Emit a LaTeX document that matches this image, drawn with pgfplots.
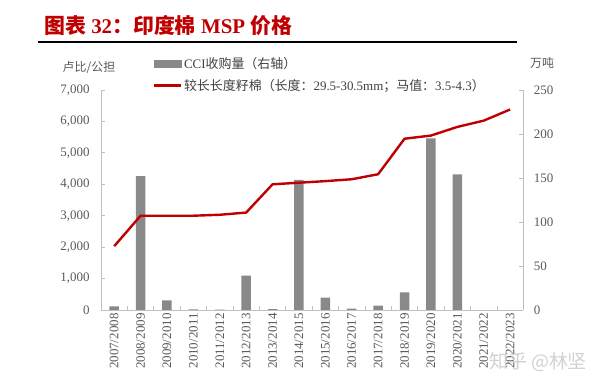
\documentclass[border=0pt]{standalone}
\usepackage{pgfplots}
\pgfplotsset{compat=1.18}
\usepackage{pgfplotstable}
\usepackage{fontspec}
\setmainfont{Liberation Serif}
\newfontfamily\cjk{Noto Sans CJK SC}
\definecolor{barc}{HTML}{898989}
\definecolor{linec}{HTML}{C00000}
\definecolor{titlec}{HTML}{C00000}
\definecolor{axc}{HTML}{BFBFBF}
\definecolor{txtc}{HTML}{595959}
\definecolor{legc}{HTML}{404040}

\pgfplotstableread{
i bar msp
0 4 2030
1 152 3000
2 11 3000
3 0.6 3000
4 0.5 3030
5 39 3100
6 1 4000
7 148 4050
8 14 4100
9 1.5 4160
10 5 4320
11 20 5450
12 195 5550
13 154 5825
14 0 6025
15 0 6380
}\data

\pgfplotsset{
  base/.style={
    scale only axis, width=422.3bp, height=220bp,
    xmin=-0.5, xmax=15.5,
    at={(101bp,76bp)}, anchor=south west,
    axis line style={axc, line width=0.8bp},
    tick style={axc, line width=0.8bp},
    tick align=inside,
    major tick length=4bp, minor tick length=4bp,
    tick label style={font=\fontsize{13}{15}\selectfont, text=txtc},
    /pgf/number format/assume math mode=true,
    /pgf/number format/1000 sep={,},
  }
}

\begin{document}
\begin{tikzpicture}
\path[use as bounding box] (0,0) rectangle (600bp,386bp);

% bars, right axis
\begin{axis}[base,
  ymin=0, ymax=250, ytick={0,50,...,250},
  axis y line*=right, axis x line*=bottom,
  xtick={0,...,15},
  xticklabels={2007/2008,2008/2009,2009/2010,2010/2011,2011/2012,2012/2013,2013/2014,2014/2015,2015/2016,2016/2017,2017/2018,2018/2019,2019/2020,2020/2021,2021/2022,2022/2023},
  major x tick style={draw=none},
  minor xtick={-0.5,0.5,...,15.5},
  x tick label style={rotate=90, anchor=east},
  yticklabel style={xshift=7bp},
]
\addplot[ybar, bar width=9.5bp, fill=barc, draw=none] table[x=i, y=bar] {\data};
\end{axis}

% line, left axis
\begin{axis}[base,
  ymin=0, ymax=7000, ytick={0,1000,...,7000},
  axis y line*=left, axis x line=none,
  yticklabel style={xshift=-8bp},
  legend style={at={(0.123,1.155)}, anchor=north west, draw=none, fill=none,
    font=\fontsize{13}{15}\selectfont, text=legc, inner sep=0pt,
    row sep=6bp, nodes={inner sep=1.5bp}},
  legend cell align=left,
]
\addlegendimage{legend image code/.code={\fill[barc] (0bp,-3.2bp) rectangle (27bp,3.2bp);}}
\addlegendentry{CCI{\cjk 收购量（右轴）}}
\addplot[linec, line width=2.4bp, line join=round,
  legend image code/.code={\draw[linec,line width=2.4bp] (0bp,0bp) -- (27bp,0bp);}]
  table[x=i, y=msp] {\data};
\addlegendentry{{\cjk 较长长度籽棉（长度：}29.5-30.5mm{\cjk ；马值：}3.5-4.3{\cjk ）}}
\end{axis}

% title
\node[anchor=west, inner sep=0pt, text=titlec, font=\fontsize{21}{25}\selectfont\bfseries] at (44bp,360bp)
  {{\cjk 图表}\ 32{\cjk ：印度棉}\ MSP\ {\cjk 价格}};
\draw[black, line width=1.8bp] (38bp,344.3bp) -- (517bp,344.3bp);

% unit labels
\node[anchor=center, inner sep=0pt, text=txtc, font=\fontsize{12}{14}\selectfont\cjk] at (89bp,318bp) {卢比/公担};
\node[anchor=center, inner sep=0pt, text=txtc, font=\fontsize{12}{14}\selectfont\cjk] at (542bp,323bp) {万吨};

% watermark
\node[anchor=center, inner sep=0pt, text=black!18, font=\fontsize{19}{22}\selectfont\cjk] at (538bp,24bp) {知乎 @林坚};
\end{tikzpicture}
\end{document}
